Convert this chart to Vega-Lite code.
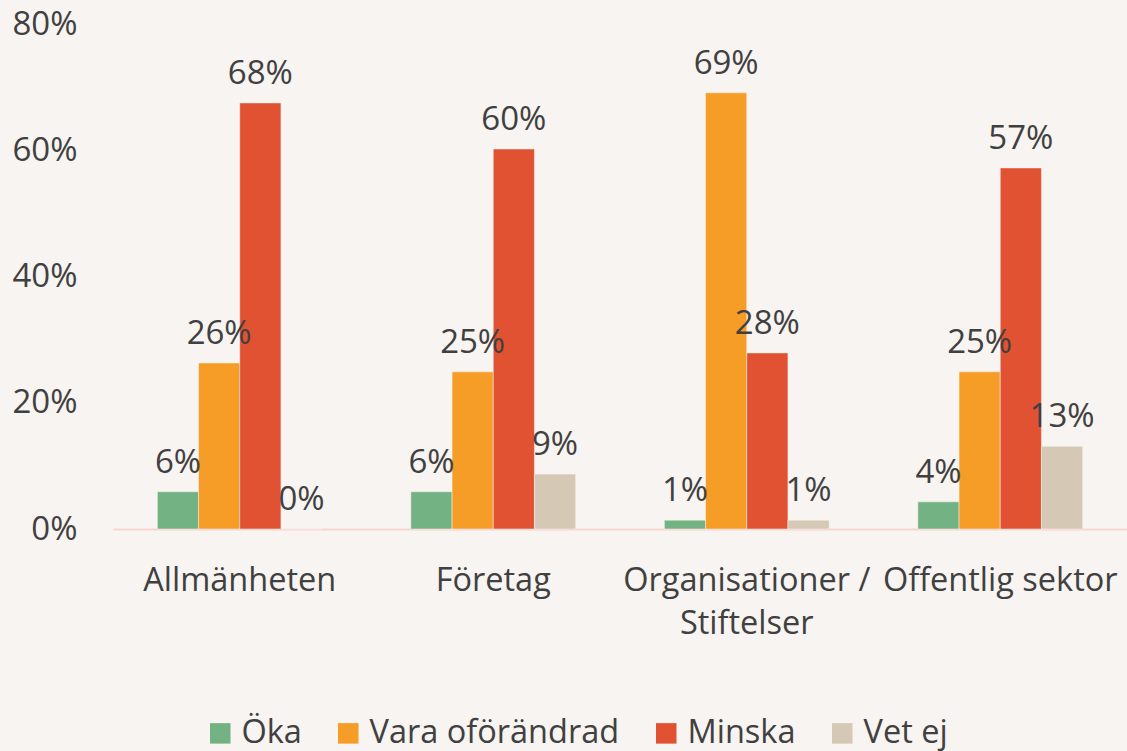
{
  "$schema": "https://vega.github.io/schema/vega-lite/v6.json",
  "width": 1014,
  "height": 505,
  "autosize": {"type": "none"},
  "padding": {"left": 113, "top": 24, "right": 0, "bottom": 222},
  "background": "#F8F4F1",
  "config": {
    "view": {"stroke": null},
    "font": "Open Sans",
    "text": {"font": "Open Sans"}
  },
  "data": {
    "values": [
      {"grupp": "Allmänheten", "svar": "Öka", "andel": 0.059},
      {"grupp": "Allmänheten", "svar": "Vara oförändrad", "andel": 0.263},
      {"grupp": "Allmänheten", "svar": "Minska", "andel": 0.675},
      {"grupp": "Allmänheten", "svar": "Vet ej", "andel": 0.0},
      {"grupp": "Företag", "svar": "Öka", "andel": 0.059},
      {"grupp": "Företag", "svar": "Vara oförändrad", "andel": 0.249},
      {"grupp": "Företag", "svar": "Minska", "andel": 0.602},
      {"grupp": "Företag", "svar": "Vet ej", "andel": 0.087},
      {"grupp": "Organisationer / Stiftelser", "svar": "Öka", "andel": 0.014},
      {"grupp": "Organisationer / Stiftelser", "svar": "Vara oförändrad", "andel": 0.691},
      {"grupp": "Organisationer / Stiftelser", "svar": "Minska", "andel": 0.279},
      {"grupp": "Organisationer / Stiftelser", "svar": "Vet ej", "andel": 0.014},
      {"grupp": "Offentlig sektor", "svar": "Öka", "andel": 0.043},
      {"grupp": "Offentlig sektor", "svar": "Vara oförändrad", "andel": 0.249},
      {"grupp": "Offentlig sektor", "svar": "Minska", "andel": 0.572},
      {"grupp": "Offentlig sektor", "svar": "Vet ej", "andel": 0.131}
    ]
  },
  "encoding": {
    "x": {
      "field": "grupp",
      "type": "nominal",
      "sort": ["Allmänheten", "Företag", "Organisationer / Stiftelser", "Offentlig sektor"],
      "scale": {"paddingInner": 0.35, "paddingOuter": 0.175},
      "axis": {
        "title": null,
        "labelAngle": 0,
        "ticks": false,
        "domainColor": "#F8D3D2",
        "domainWidth": 2,
        "labelFont": "Open Sans",
        "labelFontSize": 32.5,
        "labelColor": "#404040",
        "labelPadding": 35,
        "labelLineHeight": 43,
        "labelBaseline": "top",
        "labelLimit": 0,
        "labelOverlap": false,
        "labelExpr": "datum.label == 'Organisationer / Stiftelser' ? ['Organisationer /', 'Stiftelser'] : datum.label"
      }
    },
    "xOffset": {
      "field": "svar",
      "type": "nominal",
      "scale": {"domain": ["Öka", "Vara oförändrad", "Minska", "Vet ej"], "paddingInner": 0, "paddingOuter": 0}
    },
    "y": {
      "field": "andel",
      "type": "quantitative",
      "scale": {"domain": [0, 0.8]},
      "axis": {
        "title": null,
        "format": ".0%",
        "values": [0, 0.2, 0.4, 0.6, 0.8],
        "grid": false,
        "domain": false,
        "ticks": false,
        "labelFont": "Open Sans",
        "labelFontSize": 33,
        "labelColor": "#404040",
        "labelPadding": 36
      }
    }
  },
  "layer": [
    {
      "mark": {"type": "bar", "stroke": "#F8F4F1", "strokeWidth": 0.5},
      "encoding": {
        "color": {
          "field": "svar",
          "type": "nominal",
          "scale": {
            "domain": ["Öka", "Vara oförändrad", "Minska", "Vet ej"],
            "range": ["#73B283", "#F59D26", "#E05232", "#D5C8B5"]
          },
          "legend": {
            "title": null,
            "orient": "none",
            "direction": "horizontal",
            "legendX": 91,
            "legendY": 693,
            "symbolType": "square",
            "symbolSize": 420,
            "symbolStrokeWidth": 0,
            "symbolOpacity": 1,
            "labelFont": "Open Sans",
            "labelFontSize": 32.5,
            "labelColor": "#404040",
            "labelOffset": 5,
            "columnPadding": 30,
            "labelLimit": 500
          }
        }
      }
    },
    {
      "mark": {
        "type": "text",
        "baseline": "alphabetic",
        "align": "center",
        "dy": -19,
        "fontSize": 33,
        "font": "Open Sans",
        "color": "#404040"
      },
      "encoding": {
        "text": {"field": "andel", "type": "quantitative", "format": ".0%"}
      }
    }
  ]
}
